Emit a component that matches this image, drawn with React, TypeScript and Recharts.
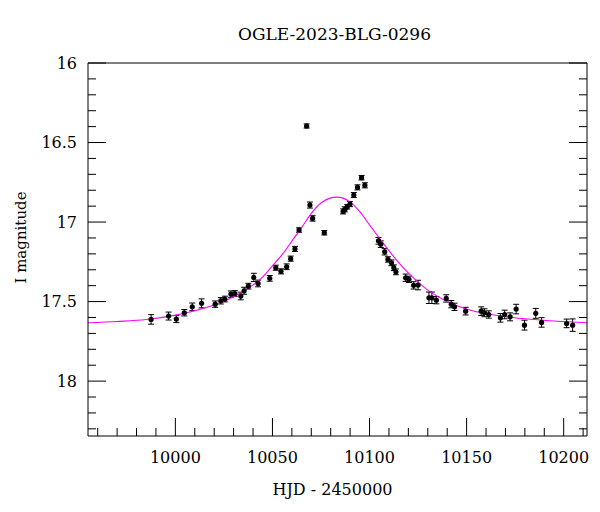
import { ComposedChart, Scatter, Line, XAxis, YAxis, ErrorBar } from 'recharts';

// OGLE photometry
const hjd = [
  9987.5, 9996.5, 10000.5, 10004.6, 10008.7, 10013.5, 10020.5, 10023.4, 10025.5, 10028.6,
  10030.6, 10033.7, 10035.4, 10037.6, 10040.4, 10042.6, 10048.6, 10051.7, 10054.4, 10057.3,
  10059.4, 10061.6, 10063.7, 10067.6, 10069.3, 10070.7, 10076.7, 10086.4, 10087.3, 10088.5,
  10089.9, 10091.9, 10093.8, 10095.9, 10097.6, 10104.6, 10105.8, 10107.8, 10109.5, 10111.3,
  10112.5, 10113.6, 10118.6, 10120.3, 10122.7, 10125.0, 10130.6, 10132.1, 10134.4, 10139.5,
  10142.1, 10143.8, 10149.5, 10157.5, 10159.2, 10161.4, 10167.4, 10169.6, 10172.4, 10175.5,
  10179.8, 10185.6, 10188.6, 10201.5, 10204.6,
];
const mag = [
  17.612, 17.591, 17.61, 17.57, 17.533, 17.511, 17.516, 17.495, 17.484, 17.453,
  17.449, 17.465, 17.432, 17.403, 17.348, 17.386, 17.354, 17.287, 17.31, 17.281,
  17.23, 17.169, 17.05, 16.396, 16.893, 16.977, 17.067, 16.933, 16.92, 16.904,
  16.887, 16.83, 16.782, 16.721, 16.769, 17.118, 17.139, 17.187, 17.235, 17.256,
  17.287, 17.313, 17.35, 17.36, 17.398, 17.396, 17.476, 17.476, 17.491, 17.48,
  17.516, 17.533, 17.56, 17.56, 17.57, 17.581, 17.602, 17.581, 17.596, 17.547,
  17.648, 17.574, 17.631, 17.637, 17.648,
];
const magErr = [
  0.03, 0.025, 0.022, 0.02, 0.024, 0.028, 0.02, 0.02, 0.018, 0.02,
  0.018, 0.024, 0.022, 0.018, 0.026, 0.021, 0.018, 0.016, 0.016, 0.018,
  0.016, 0.016, 0.014, 0.013, 0.019, 0.017, 0.014, 0.016, 0.016, 0.014,
  0.016, 0.016, 0.016, 0.014, 0.016, 0.021, 0.021, 0.02, 0.017, 0.018,
  0.018, 0.018, 0.023, 0.02, 0.023, 0.03, 0.036, 0.036, 0.023, 0.023,
  0.023, 0.023, 0.024, 0.027, 0.025, 0.023, 0.027, 0.027, 0.025, 0.03,
  0.031, 0.031, 0.03, 0.027, 0.039,
];

// model curve, sampled from the plotted magenta line
const modelHjd = [
  9955, 9970, 9985, 10000, 10010, 10020, 10030, 10040, 10045, 10050,
  10055, 10060, 10065, 10070, 10075, 10080, 10083, 10086, 10090, 10095,
  10100, 10105, 10110, 10115, 10120, 10125, 10130, 10140, 10150, 10160,
  10170, 10180, 10195, 10212,
];
const modelMag = [
  17.633, 17.625, 17.613, 17.585, 17.557, 17.522, 17.47, 17.395, 17.345, 17.275,
  17.205, 17.12, 17.035, 16.945, 16.88, 16.848, 16.843, 16.848, 16.875, 16.935,
  17.018, 17.1, 17.18, 17.255, 17.32, 17.378, 17.428, 17.5, 17.548, 17.575,
  17.595, 17.608, 17.622, 17.633,
];

const xMajorTicks = [10000, 10050, 10100, 10150, 10200];
const xTicks = [
  9960, 9970, 9980, 9990, 10000, 10010, 10020, 10030, 10040, 10050, 10060, 10070, 10080,
  10090, 10100, 10110, 10120, 10130, 10140, 10150, 10160, 10170, 10180, 10190, 10200, 10210,
];
const yMajorTicks = [16, 16.5, 17, 17.5, 18];
const yTicks = [
  16, 16.1, 16.2, 16.3, 16.4, 16.5, 16.6, 16.7, 16.8, 16.9, 17, 17.1, 17.2, 17.3,
  17.4, 17.5, 17.6, 17.7, 17.8, 17.9, 18, 18.1, 18.2, 18.3,
];

const FONT = "'DejaVu Serif', serif";
const MAJOR = 18;
const MINOR = 8;

const isMajor = (v: number, majors: number[]) => majors.some((m) => Math.abs(m - v) < 1e-6);

function BottomTick(props: any) {
  const { x, y, payload } = props;
  const major = isMajor(payload.value, xMajorTicks);
  return (
    <g>
      <line x1={x} y1={y} x2={x} y2={y - (major ? MAJOR : MINOR)} stroke="#000" />
      {major && (
        <text x={x} y={y + 27} textAnchor="middle" fontFamily={FONT} fontSize={16} fill="#000">
          {payload.value}
        </text>
      )}
    </g>
  );
}

function TopTick(props: any) {
  const { x, y, payload } = props;
  const major = isMajor(payload.value, xMajorTicks);
  return <line x1={x} y1={y} x2={x} y2={y + (major ? MAJOR : MINOR)} stroke="#000" />;
}

function LeftTick(props: any) {
  const { x, y, payload } = props;
  const major = isMajor(payload.value, yMajorTicks);
  return (
    <g>
      <line x1={x} y1={y} x2={x + (major ? MAJOR : MINOR)} y2={y} stroke="#000" />
      {major && (
        <text x={x - 11} y={y} dy="0.36em" textAnchor="end" fontFamily={FONT} fontSize={16} fill="#000">
          {payload.value}
        </text>
      )}
    </g>
  );
}

function RightTick(props: any) {
  const { x, y, payload } = props;
  const major = isMajor(payload.value, yMajorTicks);
  return <line x1={x} y1={y} x2={x - (major ? MAJOR : MINOR)} y2={y} stroke="#000" />;
}

function Dot(props: any) {
  return <circle cx={props.cx} cy={props.cy} r={2.6} fill="#000" />;
}

export default function App() {
  const points = hjd.map((x, i) => ({ x, y: mag[i], err: magErr[i] }));
  const model = modelHjd.map((x, i) => ({ x, y: modelMag[i] }));

  return (
    <div style={{ position: 'absolute', left: 0, top: 0, background: '#fff' }}>
      <ComposedChart width={600} height={512} margin={{ top: 62, right: 12, bottom: 26, left: 0 }}>
        <XAxis
          xAxisId="main"
          dataKey="x"
          type="number"
          domain={[9955, 10212]}
          allowDataOverflow
          ticks={xTicks}
          interval={0}
          height={50}
          tickSize={0}
          tickMargin={0}
          tickLine={false}
          tick={<BottomTick />}
          axisLine={{ stroke: '#000' }}
          label={{
            content: (p: any) => (
              <text
                x={p.viewBox.x + p.viewBox.width / 2 - 5}
                y={p.viewBox.y + 59}
                textAnchor="middle"
                fontFamily={FONT}
                fontSize={16}
                fill="#000"
              >
                HJD - 2450000
              </text>
            ),
          }}
        />
        <XAxis
          xAxisId="top"
          orientation="top"
          type="number"
          domain={[9955, 10212]}
          allowDataOverflow
          ticks={xTicks}
          interval={0}
          height={1}
          tickSize={0}
          tickMargin={0}
          tickLine={false}
          tick={<TopTick />}
          axisLine={{ stroke: '#000' }}
          label={{
            content: (p: any) => (
              <text
                x={p.viewBox.x + p.viewBox.width / 2 - 3}
                y={p.viewBox.y - 22}
                textAnchor="middle"
                fontFamily={FONT}
                fontSize={17}
                fill="#000"
              >
                OGLE-2023-BLG-0296
              </text>
            ),
          }}
        />
        <YAxis
          yAxisId="main"
          dataKey="y"
          type="number"
          domain={[16, 18.345]}
          reversed
          allowDataOverflow
          ticks={yTicks}
          interval={0}
          width={88}
          tickSize={0}
          tickMargin={0}
          tickLine={false}
          tick={<LeftTick />}
          axisLine={{ stroke: '#000' }}
          label={{
            content: (p: any) => {
              const cx = p.viewBox.x + 21;
              const cy = p.viewBox.y + p.viewBox.height / 2 - 12;
              return (
                <text
                  x={cx}
                  y={cy}
                  dy="0.35em"
                  transform={`rotate(-90 ${cx} ${cy})`}
                  textAnchor="middle"
                  fontFamily={FONT}
                  fontSize={15}
                  fill="#000"
                >
                  I magnitude
                </text>
              );
            },
          }}
        />
        <YAxis
          yAxisId="right"
          orientation="right"
          type="number"
          domain={[16, 18.345]}
          reversed
          allowDataOverflow
          ticks={yTicks}
          interval={0}
          width={1}
          tickSize={0}
          tickMargin={0}
          tickLine={false}
          tick={<RightTick />}
          axisLine={{ stroke: '#000' }}
        />
        <Scatter
          xAxisId="main"
          yAxisId="main"
          data={points}
          dataKey="y"
          shape={<Dot />}
          isAnimationActive={false}
        >
          <ErrorBar dataKey="err" direction="y" width={3} stroke="#000" strokeWidth={1} isAnimationActive={false} />
        </Scatter>
        <Line
          xAxisId="main"
          yAxisId="main"
          data={model}
          dataKey="y"
          type="monotone"
          stroke="#ff00ff"
          strokeWidth={1.1}
          dot={false}
          activeDot={false}
          isAnimationActive={false}
        />
      </ComposedChart>
    </div>
  );
}
